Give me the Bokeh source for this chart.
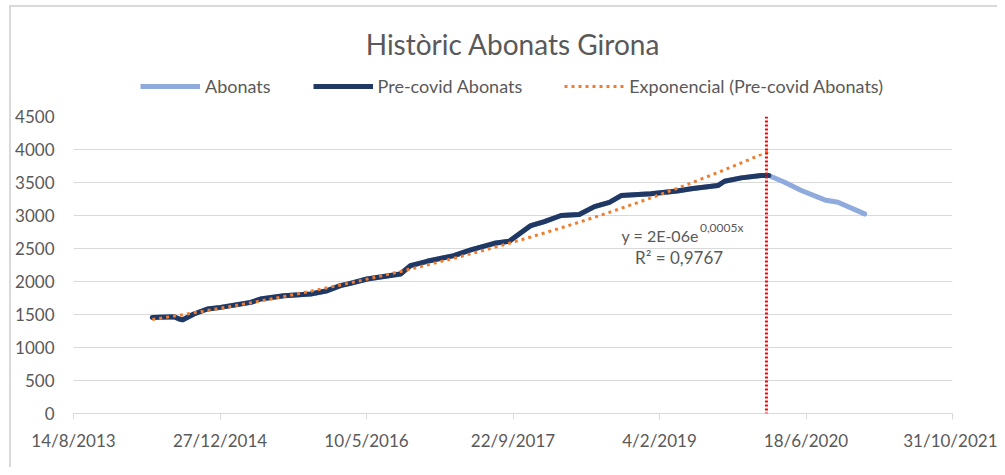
import numpy as np
import pandas as pd
from bokeh.plotting import figure
from bokeh.layouts import column
from bokeh.models import (Range1d, FixedTicker, CustomJSTickFormatter, Legend,
                          LegendItem, Span, Label)
from bokeh.embed import file_html
from bokeh.resources import INLINE

# ---------------- data ----------------
title_text = "Històric Abonats Girona"

pre_dates = ["2014-05-10", "2014-07-23", "2014-08-12", "2014-08-22", "2014-09-29",
             "2014-11-14",
             "2014-12-29", "2015-04-11", "2015-05-14", "2015-08-02", "2015-11-01",
             "2015-12-28", "2016-02-11", "2016-03-16", "2016-05-12", "2016-09-03",
             "2016-10-07", "2016-12-03", "2017-03-04", "2017-05-01", "2017-07-20",
             "2017-09-09", "2017-11-22", "2018-01-07", "2018-03-05", "2018-05-06",
             "2018-06-27", "2018-08-17", "2018-09-26", "2019-01-06", "2019-04-05",
             "2019-05-23", "2019-08-22", "2019-09-14", "2019-11-10", "2020-01-17",
             "2020-02-12"]
pre_values = [1456, 1467, 1428, 1420, 1508,
              1583,
              1608, 1684, 1735, 1785, 1811,
              1861, 1937, 1972, 2038, 2114,
              2240, 2306, 2392, 2478, 2579,
              2609, 2847, 2908, 3000, 3014,
              3135, 3200, 3302, 3328, 3370,
              3404, 3454, 3519, 3570, 3605,
              3605]

post_dates = ["2020-04-06", "2020-06-02", "2020-08-21", "2020-10-05", "2021-01-04"]
post_values = [3504, 3378, 3236, 3200, 3024]

x_tick_labels = ["14/8/2013", "27/12/2014", "10/5/2016", "22/9/2017",
                 "4/2/2019", "18/6/2020", "31/10/2021"]
y_ticks = [0, 500, 1000, 1500, 2000, 2500, 3000, 3500, 4000, 4500]

covid_date = "2020-02-04"

# exponential trend as printed on the chart (y = a*e^(k*x), x = Excel date serial)
trend_a = 2.0e-6
trend_k = 0.000488
eq_main = "y = 2E-06e"
eq_exp = "0,0005x"
r2_text = "R² = 0,9767"

series_names = ["Abonats", "Pre-covid Abonats", "Exponencial (Pre-covid Abonats)"]

# ---------------- styling ----------------
FONT = "Lato"
TXT = "#595959"
GRID = "#D9D9D9"
C_ABON = "#8FAADC"
C_PRE = "#203864"
C_TREND = "#ED7D31"
W = 986

pre_x = pd.to_datetime(pre_dates)
abon_x = pd.to_datetime(pre_dates + post_dates)
abon_y = pre_values + post_values

excel_epoch = pd.Timestamp("1899-12-30")
serial = np.asarray((pre_x - excel_epoch).days, dtype=float)
trend_y = trend_a * np.exp(trend_k * serial)

tick_dates = pd.to_datetime(x_tick_labels, dayfirst=True)
tick_ms = [t.value / 1e6 for t in tick_dates]


def ms(d):
    return pd.Timestamp(d).value / 1e6


# ---------------- header: title + legend ----------------
HH = 100
head = figure(width=W, height=HH, output_backend="svg", toolbar_location=None,
              x_range=Range1d(0, W), y_range=Range1d(0, HH),
              x_axis_location=None, y_axis_location=None,
              min_border=0, min_border_left=0, min_border_right=0,
              min_border_top=0, min_border_bottom=0)
head.outline_line_color = None
head.xgrid.grid_line_color = None
head.ygrid.grid_line_color = None
head.add_layout(Label(x=493, y=64, text=title_text, text_align="center",
                      text_baseline="middle", text_font=FONT,
                      text_font_size="28px", text_color=TXT))

# legend entries reuse the series data; in this header's ranges they fall out of view
h_ab = head.line(abon_x, abon_y, line_color=C_ABON, line_width=5)
h_pre = head.line(pre_x, pre_values, line_color=C_PRE, line_width=5)
h_tr = head.line(pre_x, trend_y, line_color=C_TREND, line_width=3, line_dash="3 4")
legend = Legend(items=[LegendItem(label=series_names[0], renderers=[h_ab]),
                       LegendItem(label=series_names[1], renderers=[h_pre]),
                       LegendItem(label=series_names[2], renderers=[h_tr])],
                orientation="horizontal", location=(67, 10),
                glyph_width=60, glyph_height=20, label_standoff=5, spacing=42,
                label_text_font=FONT, label_text_font_size="18px",
                label_text_color=TXT, border_line_color=None,
                background_fill_alpha=0, padding=0, margin=0)
head.add_layout(legend, "center")

# ---------------- main chart ----------------
p = figure(width=W, height=360, x_axis_type="datetime",
           output_backend="svg", toolbar_location=None,
           x_range=Range1d(tick_ms[0], tick_ms[-1]),
           y_range=Range1d(y_ticks[0], y_ticks[-1]),
           min_border_left=62, min_border_right=45,
           min_border_top=9, min_border_bottom=54)

p.outline_line_color = None
p.background_fill_color = "white"
p.border_fill_color = "white"

p.xaxis.ticker = FixedTicker(ticks=tick_ms)
p.xaxis.formatter = CustomJSTickFormatter(code="""
const d = new Date(tick);
return d.getUTCDate() + "/" + (d.getUTCMonth() + 1) + "/" + d.getUTCFullYear();
""")
p.xaxis.axis_line_color = GRID
p.xaxis.axis_line_width = 1
p.xaxis.major_tick_line_color = GRID
p.xaxis.major_tick_out = 6
p.xaxis.major_tick_in = 0
p.xaxis.minor_tick_line_color = None
p.xaxis.major_label_text_font = FONT
p.xaxis.major_label_text_font_size = "17px"
p.xaxis.major_label_text_color = TXT
p.xaxis.major_label_standoff = 10

p.yaxis.ticker = FixedTicker(ticks=y_ticks)
p.yaxis.axis_line_color = None
p.yaxis.major_tick_line_color = None
p.yaxis.minor_tick_line_color = None
p.yaxis.major_tick_out = 0
p.yaxis.major_tick_in = 0
p.yaxis.major_label_text_font = FONT
p.yaxis.major_label_text_font_size = "17px"
p.yaxis.major_label_text_color = TXT
p.yaxis.major_label_standoff = 19

p.xgrid.grid_line_color = None
p.ygrid.ticker = FixedTicker(ticks=y_ticks)
p.ygrid.grid_line_color = GRID
p.ygrid.grid_line_width = 1

r_ab = p.line(abon_x, abon_y, line_color=C_ABON, line_width=5,
              line_join="round", line_cap="round")
r_pre = p.line(pre_x, pre_values, line_color=C_PRE, line_width=5,
               line_join="round", line_cap="round")
r_tr = p.line(pre_x, trend_y, line_color=C_TREND, line_width=3, line_dash="3 4")

p.add_layout(Span(location=ms(covid_date), dimension="height", line_color="#FF0000",
                  line_width=3, line_dash="2 2"))

common = dict(text_font=FONT, text_color=TXT, text_baseline="alphabetic")
p.add_layout(Label(x=ms("2019-06-18"), y=2695, text=eq_main, text_align="right",
                   text_font_size="16px", **common))
p.add_layout(Label(x=ms("2019-06-22"), y=2820, text=eq_exp, text_align="left",
                   text_font_size="12px", **common))
p.add_layout(Label(x=ms("2019-04-12"), y=2362, text=r2_text, text_align="center",
                   text_font_size="17px", **common))

layout = column(head, p, spacing=0,
                styles={"border-left": "2px solid #D9D9D9",
                        "border-top": "2px solid #D9D9D9",
                        "margin-left": "9px", "margin-top": "5px"})

open("out.html", "w").write(file_html(layout, INLINE))
